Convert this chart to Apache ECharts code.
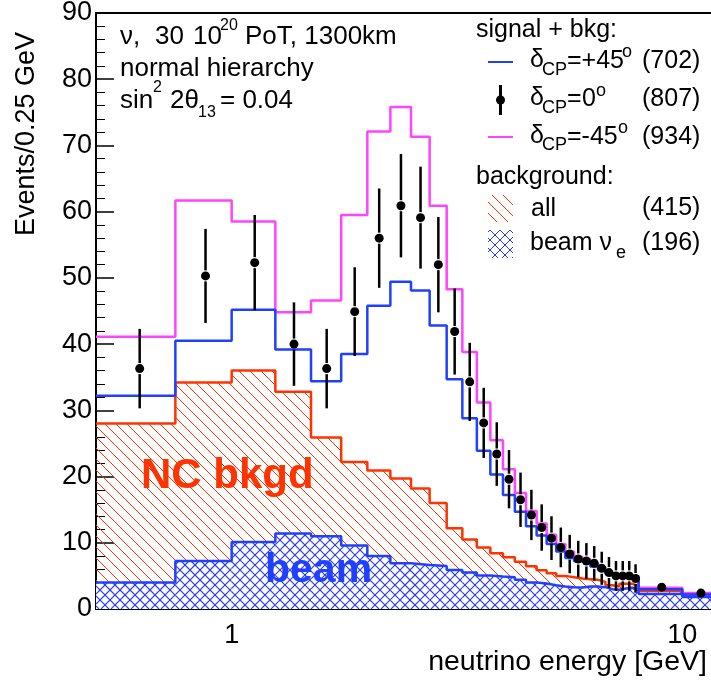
<!DOCTYPE html>
<html><head><meta charset="utf-8">
<script src="https://cdn.jsdelivr.net/npm/echarts@6/dist/echarts.min.js"></script>
<style>html,body{margin:0;padding:0;background:#fff}#c{width:711px;height:684px}</style>
</head><body><div id="c"></div>
<script>
// ---- data ----
const binEdges = [0.5,0.75,1,1.25,1.5,1.75,2,2.25,2.5,2.75,3,3.25,3.5,3.75,4,4.25,4.5,4.75,5,5.25,5.5,5.75,6,6.25,6.5,6.75,7,7.25,7.5,7.75,8,10,12];
const sigMinus45 = [41.1,61.7,58.5,44.8,46.6,59.5,72.1,75.8,71.3,60.9,48.3,38.8,31.2,25.5,21.1,17.5,14.8,12.9,11.2,9.8,8.7,7.9,7.5,6.9,6.3,5.6,5.2,5.0,5.0,4.9,3.2,2.4];
const sigPlus45 = [32.2,40.5,45.2,39.2,34.4,38.5,45.8,49.4,48.1,42.8,34.7,28.8,23.9,20.3,17.2,14.7,12.5,11.1,9.8,8.7,7.7,7.2,6.9,6.4,5.9,5.3,4.9,4.7,4.7,4.6,3.0,2.2];
const sigZero = [36.3,50.3,52.3,40.0,36.3,44.9,56.0,60.9,59.1,52.0,41.9,34.3,28.1,23.4,19.6,16.5,14.2,12.3,10.7,9.3,8.3,7.55,7.25,6.9,6.15,5.5,5.0,5.0,5.0,4.6,3.3,2.4];
const sigZeroErr = [6.0,7.1,7.2,6.3,6.0,6.7,7.5,7.8,7.7,7.2,6.5,5.9,5.3,4.8,4.4,4.1,3.8,3.5,3.3,3.0,2.9,2.75,2.7,2.6,2.5,2.35,2.25,2.25,2.25,2.15,0.65,0.55];
const bkgAll = [28.0,34.2,36.0,32.8,25.9,22.2,20.9,19.7,18.2,16.0,12.2,10.5,9.3,8.4,7.8,7.15,6.45,5.85,5.4,5.0,4.8,4.6,4.5,4.4,4.1,3.6,3.4,3.8,3.8,3.5,2.7,2.2];
const bkgBeam = [4.0,7.25,10.1,11.4,11.0,9.6,8.0,6.9,6.65,6.5,5.9,5.5,5.05,4.9,4.8,4.4,4.0,3.85,3.6,3.4,3.3,3.25,3.4,3.4,3.3,3.0,2.9,3.1,3.2,2.9,2.27,1.8];
const xMajorTicks = [1, 10];
const xMinorTicks = [0.6,0.7,0.8,0.9,2,3,4,5,6,7,8,9,11];
const legendCounts = ['(702)','(807)','(934)','(415)','(196)'];

// ---- styling helpers ----
const FONT = '"Liberation Sans", Arial, Helvetica, sans-serif';
const RED = '#ff3300', BLUE = '#2040ff', MAG = '#ff44ff', HATCH_BLUE = '#2a3af0';
const RED_SP = 11, BLUE_SP = 10;

function hatchCanvas(color, size, cross, bg) {
  const c = document.createElement('canvas');
  c.width = size; c.height = size;
  const g = c.getContext('2d');
  if (bg) { g.fillStyle = bg; g.fillRect(0, 0, size, size); }
  g.strokeStyle = color; g.lineWidth = 1;
  g.beginPath();
  for (let k = -1; k <= 1; k++) { g.moveTo(k * size, 0); g.lineTo(k * size + size, size); }
  if (cross) {
    for (let k = 0; k <= 2; k++) { g.moveTo(k * size, 0); g.lineTo(k * size - size, size); }
  }
  g.stroke();
  return { image: c, repeat: 'repeat' };
}

function stepData(vals) {
  const d = vals.map((v, i) => [binEdges[i], v]);
  d.push([binEdges[binEdges.length - 1], vals[vals.length - 1]]);
  return d;
}
// one item per bin: [lowEdge, highEdge, all-background, beam-background]
const bkgBins = bkgAll.map((v, i) => [binEdges[i], binEdges[i + 1], v, bkgBeam[i]]);
const pointData = sigZero.map((v, i) => [(binEdges[i] + binEdges[i + 1]) / 2, v, sigZeroErr[i]]);

function hatchLines(out, x0, x1, y0, y1, s, color, back, fwd, w) {
  if (y1 - y0 <= 0.01) return;
  if (back) {
    for (let k = Math.floor((x0 - y1) / s) - 1; k <= Math.ceil((x1 - y0) / s) + 1; k++) {
      const c = k * s;
      const xs = Math.max(x0, y0 + c), xe = Math.min(x1, y1 + c);
      if (xe > xs) out.push({ type: 'line', shape: { x1: xs, y1: xs - c, x2: xe, y2: xe - c }, style: { stroke: color, lineWidth: w } });
    }
  }
  if (fwd) {
    for (let k = Math.floor((x0 + y0) / s) - 1; k <= Math.ceil((x1 + y1) / s) + 1; k++) {
      const c = k * s;
      const xs = Math.max(x0, c - y1), xe = Math.min(x1, c - y0);
      if (xe > xs) out.push({ type: 'line', shape: { x1: xs, y1: c - xs, x2: xe, y2: c - xe }, style: { stroke: color, lineWidth: w } });
    }
  }
}

function bkgRender(params, api) {
  const i = params.dataIndex;
  const bin = bkgBins[i];
  const pAll = api.coord([bin[0], bin[2]]);
  const pBeam = api.coord([bin[0], bin[3]]);
  const pBase = api.coord([bin[1], 0]);
  const x0 = pAll[0], x1 = pBase[0] + 0.5;
  const kids = [];
  kids.push({ type: 'rect', shape: { x: x0, y: pBeam[1], width: x1 - x0, height: pBase[1] - pBeam[1] }, style: { fill: '#ffffff' } });
  hatchLines(kids, x0, x1, pBeam[1], pBase[1], BLUE_SP, HATCH_BLUE, true, true, 1.1);
  const top = Math.min(pAll[1], pBeam[1]);
  hatchLines(kids, x0, x1, top, pBeam[1], RED_SP, RED, true, false, 1);
  return { type: 'group', children: kids };
}

function txt(x, y, text, size, opts) {
  opts = opts || {};
  return {
    type: 'text', x: x, y: y, z: 100, rotation: opts.rotation || 0,
    style: {
      text: text, fontSize: size, fontFamily: FONT, fontWeight: opts.weight || 'normal',
      fill: opts.color || '#000',
      align: opts.align || 'left', verticalAlign: 'middle',
      textAlign: opts.align || 'left', textVerticalAlign: 'middle'
    }
  };
}

const graphics = [
  txt(27, 32, 'Events/0.25 GeV', 27, { align: 'right', rotation: Math.PI / 2 }),
  txt(707, 662, 'neutrino energy [GeV]', 28.5, { align: 'right' }),
  txt(120, 37, 'ν,', 26), txt(155, 37, '30', 26), txt(193, 37, '10', 26), txt(220, 26, '20', 16),
  txt(245, 37, 'PoT, 1300km', 26),
  txt(120, 69, 'normal hierarchy', 26),
  txt(120, 101, 'sin', 26), txt(153, 88, '2', 16), txt(170, 101, '2θ', 26), txt(198, 113, '13', 16),
  txt(220, 101, '= 0.04', 26),
  txt(476, 30, 'signal + bkg:', 25),
  { type: 'line', z: 100, shape: { x1: 488, y1: 62, x2: 513, y2: 62 }, style: { stroke: BLUE, lineWidth: 2 } },
  txt(530, 60, 'δ', 25), txt(542, 70, 'CP', 18), txt(567, 61, '=+45', 25), txt(622, 52, 'o', 18),
  txt(642, 61, legendCounts[0], 25),
  { type: 'line', z: 100, shape: { x1: 500.5, y1: 85, x2: 500.5, y2: 115 }, style: { stroke: '#000', lineWidth: 3 } },
  { type: 'circle', z: 100, shape: { cx: 500.5, cy: 100, r: 4.5 }, style: { fill: '#000' } },
  txt(530, 98, 'δ', 25), txt(542, 108, 'CP', 18), txt(567, 99, '=', 25), txt(582, 99, '0', 25), txt(596, 91, 'o', 18),
  txt(642, 99, legendCounts[1], 25),
  { type: 'line', z: 100, shape: { x1: 488, y1: 137, x2: 513, y2: 137 }, style: { stroke: MAG, lineWidth: 2 } },
  txt(530, 136, 'δ', 25), txt(542, 145, 'CP', 18), txt(567, 137, '=-45', 25), txt(618, 128, 'o', 18),
  txt(642, 137, legendCounts[2], 25),
  txt(476, 177, 'background:', 25),
  { type: 'rect', z: 100, shape: { x: 488, y: 195, width: 25, height: 27 }, style: { fill: hatchCanvas(RED, RED_SP, false, null) } },
  txt(531, 209, 'all', 25), txt(642, 208, legendCounts[3], 25),
  { type: 'rect', z: 100, shape: { x: 488, y: 230, width: 25, height: 28 }, style: { fill: hatchCanvas(HATCH_BLUE, BLUE_SP, true, '#ffffff') } },
  txt(530, 243, 'beam ν', 25), txt(616, 253, 'e', 18), txt(642, 243, legendCounts[4], 25),
  txt(141, 476, 'NC bkgd', 42, { weight: 'bold', color: RED }),
  txt(265, 571, 'beam', 41, { weight: 'bold', color: BLUE })
];

const chart = echarts.init(document.getElementById('c'), null, { renderer: 'canvas' });
const logAxisBase = { type: 'log', logBase: 10, min: 0.5, max: 12, position: 'bottom', splitLine: { show: false } };

chart.setOption({
  animation: false,
  backgroundColor: '#fff',
  grid: { left: 96, right: -7, top: 13, bottom: 75, show: true, borderColor: '#000', borderWidth: 2, containLabel: false, outerBoundsMode: 'none' },
  xAxis: [
    Object.assign({}, logAxisBase, {
      axisLine: { show: false },
      axisTick: { show: true, inside: true, length: 8, customValues: xMinorTicks, lineStyle: { color: '#000', width: 1.5 } },
      axisLabel: { show: false }
    }),
    Object.assign({}, logAxisBase, {
      axisLine: { show: true, lineStyle: { color: '#000', width: 2 } },
      axisTick: { show: true, inside: true, length: 16, customValues: xMajorTicks, lineStyle: { color: '#000', width: 1.5 } },
      axisLabel: { show: true, customValues: xMajorTicks, fontSize: 27, fontFamily: FONT, color: '#000', margin: 13,
        formatter: v => String(Math.round(v)) }
    })
  ],
  yAxis: {
    type: 'value', min: 0, max: 90, interval: 10,
    axisLine: { show: true, lineStyle: { color: '#000', width: 2 } },
    axisTick: { show: true, inside: true, length: 18, lineStyle: { color: '#000', width: 1.5 } },
    minorTick: { show: true, splitNumber: 5, length: 9, lineStyle: { color: '#000', width: 1 } },
    axisLabel: { fontSize: 27, fontFamily: FONT, color: '#000', margin: 4 },
    splitLine: { show: false }
  },
  series: [
    { name: 'bkg-fill', type: 'custom', xAxisIndex: 1, data: bkgBins, z: 1, clip: true,
      encode: { x: [0, 1], y: [2, 3] }, renderItem: bkgRender },
    { name: 'all', type: 'line', xAxisIndex: 1, step: 'end', symbol: 'none', data: stepData(bkgAll),
      lineStyle: { color: RED, width: 2.5 }, z: 3 },
    { name: 'beam', type: 'line', xAxisIndex: 1, step: 'end', symbol: 'none', data: stepData(bkgBeam),
      lineStyle: { color: BLUE, width: 2.5 }, z: 4 },
    { name: 'dcp-45', type: 'line', xAxisIndex: 1, step: 'end', symbol: 'none', data: stepData(sigMinus45),
      lineStyle: { color: MAG, width: 2.5 }, z: 5 },
    { name: 'dcp+45', type: 'line', xAxisIndex: 1, step: 'end', symbol: 'none', data: stepData(sigPlus45),
      lineStyle: { color: BLUE, width: 2.5 }, z: 6 },
    { name: 'dcp0', type: 'custom', xAxisIndex: 1, data: pointData, z: 7,
      renderItem: function (params, api) {
        const x = api.value(0), y = api.value(1), e = api.value(2);
        const p = api.coord([x, y]);
        const t = api.coord([x, y + e]);
        const b = api.coord([x, y - e]);
        const r = 4.5, gap = 1;
        const kids = [];
        if (t[1] < p[1] - r - gap) kids.push({ type: 'line', shape: { x1: p[0], y1: t[1], x2: p[0], y2: p[1] - r - gap }, style: { stroke: '#000', lineWidth: 2.5 } });
        if (b[1] > p[1] + r + gap) kids.push({ type: 'line', shape: { x1: p[0], y1: p[1] + r + gap, x2: p[0], y2: b[1] }, style: { stroke: '#000', lineWidth: 2.5 } });
        kids.push({ type: 'circle', shape: { cx: p[0], cy: p[1], r: r }, style: { fill: '#000' } });
        return { type: 'group', children: kids };
      }
    }
  ],
  graphic: graphics
});
</script>
</body></html>
